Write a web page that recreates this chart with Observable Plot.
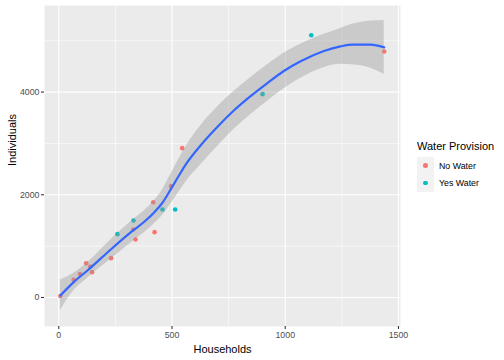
<!DOCTYPE html>
<html><head><meta charset="utf-8">
<script src="https://cdn.jsdelivr.net/npm/d3@7"></script>
<script src="https://cdn.jsdelivr.net/npm/@observablehq/plot@0.6"></script>
<style>
html,body{margin:0;padding:0;background:#fff;overflow:hidden}
#wrap{position:relative;width:504px;height:360px;font-family:"Liberation Sans",Arial,sans-serif}
#wrap svg{display:block}
.lg{position:absolute;white-space:nowrap;color:#000}
.key{position:absolute;width:17px;height:17px;background:#F2F2F2}
.dot{position:absolute;width:4.6px;height:4.6px;border-radius:50%}
</style></head><body><div id="wrap"></div>
<script>
// Scatter data
const households  = [7, 66, 94, 121, 139, 147, 231, 329, 339, 417, 423, 496, 545, 1437, 259, 330, 458, 514, 900, 1115];
const individuals = [30, 345, 455, 668, 604, 493, 766, 1324, 1130, 1856, 1272, 2168, 2908, 4791, 1233, 1500, 1714, 1714, 3960, 5108];
const water = ["No Water","No Water","No Water","No Water","No Water","No Water","No Water","No Water","No Water","No Water","No Water","No Water","No Water","No Water",
               "Yes Water","Yes Water","Yes Water","Yes Water","Yes Water","Yes Water"];
const waterLevels = ["No Water", "Yes Water"];
const waterColors = ["#F8766D", "#00BFC4"];

// Smooth (loess) fit and confidence band
const fitX    = [7, 66, 128, 231, 327, 379, 420, 457, 495, 530, 567, 626, 700, 773, 847, 920, 994, 1068, 1171, 1244, 1296, 1377, 1437];
const fitY    = [40, 300, 530, 940, 1300, 1480, 1650, 1840, 2110, 2370, 2630, 2960, 3320, 3640, 3920, 4170, 4410, 4600, 4800, 4890, 4925, 4925, 4870];
const bandLow = [-260, 130, 380, 750, 1090, 1265, 1425, 1590, 1820, 2050, 2285, 2580, 2935, 3270, 3560, 3815, 4065, 4270, 4475, 4540, 4530, 4465, 4345];
const bandHigh= [340, 470, 680, 1130, 1510, 1695, 1875, 2090, 2400, 2690, 2975, 3340, 3705, 4010, 4280, 4525, 4755, 4930, 5125, 5240, 5320, 5385, 5395];

// Axis ticks
const xTicks = [0, 500, 1000, 1500];
const xMinor = [250, 750, 1250];
const yTicks = [0, 2000, 4000];
const yMinor = [1000, 3000, 5000];

const points = households.map((h, i) => ({h, n: individuals[i], w: water[i]}));
const band = fitX.map((x, i) => ({x, y: fitY[i], lo: bandLow[i], hi: bandHigh[i]}));

const chart = Plot.plot({
  width: 504, height: 360,
  marginLeft: 44, marginRight: 104, marginTop: 5, marginBottom: 34,
  style: {fontFamily: '"Liberation Sans", Arial, sans-serif', background: "#fff"},
  x: {domain: [-63, 1509]},
  y: {domain: [-565, 5686]},
  color: {domain: waterLevels, range: waterColors},
  marks: [
    Plot.frame({fill: "#EBEBEB", stroke: null}),
    Plot.ruleX(xMinor, {stroke: "#fff", strokeWidth: 0.55}),
    Plot.ruleY(yMinor, {stroke: "#fff", strokeWidth: 0.55}),
    Plot.ruleX(xTicks, {stroke: "#fff", strokeWidth: 1.1}),
    Plot.ruleY(yTicks, {stroke: "#fff", strokeWidth: 1.1}),
    Plot.dot(points, {x: "h", y: "n", fill: "w", r: 2.3, stroke: null}),
    Plot.areaY(band, {x: "x", y1: "lo", y2: "hi", fill: "#999999", fillOpacity: 0.4, curve: "monotone-x"}),
    Plot.line(band, {x: "x", y: "y", stroke: "#3366FF", strokeWidth: 2.2, curve: "monotone-x"}),
    Plot.axisX({ticks: xTicks, tickSize: 3, tickPadding: 2, label: null, fontSize: 8.8, color: "#4D4D4D", stroke: "#333333", strokeWidth: 1.07, tickFormat: d => String(d)}),
    Plot.axisY({ticks: yTicks, tickSize: 3, tickPadding: 2, label: null, fontSize: 8.8, color: "#4D4D4D", stroke: "#333333", strokeWidth: 1.07, tickFormat: d => String(d)}),
    Plot.text(["Households"], {frameAnchor: "bottom", dy: 23, lineAnchor: "middle", fontSize: 11, fill: "#000"}),
    Plot.text(["Individuals"], {frameAnchor: "left", dx: -32, rotate: -90, lineAnchor: "middle", fontSize: 11, fill: "#000"})
  ]
});
const wrap = document.getElementById("wrap");
wrap.appendChild(chart);

// Legend (right side)
const title = document.createElement("div");
title.className = "lg"; title.textContent = "Water Provision";
title.style.cssText = "left:417px;top:140px;font-size:11px;line-height:12px";
wrap.appendChild(title);
waterLevels.forEach((lab, i) => {
  const top = 157 + i * 17.3;
  const k = document.createElement("div"); k.className = "key";
  k.style.left = "417px"; k.style.top = top + "px"; k.style.height = "17.3px";
  wrap.appendChild(k);
  const d = document.createElement("div"); d.className = "dot";
  d.style.left = (425.5 - 2.3) + "px"; d.style.top = (top + 8.65 - 2.3) + "px"; d.style.background = waterColors[i];
  wrap.appendChild(d);
  const t = document.createElement("div"); t.className = "lg"; t.textContent = lab;
  t.style.cssText = `left:439px;top:${top + 8.65 - 5}px;font-size:8.8px;line-height:10px`;
  wrap.appendChild(t);
});
</script></body></html>
